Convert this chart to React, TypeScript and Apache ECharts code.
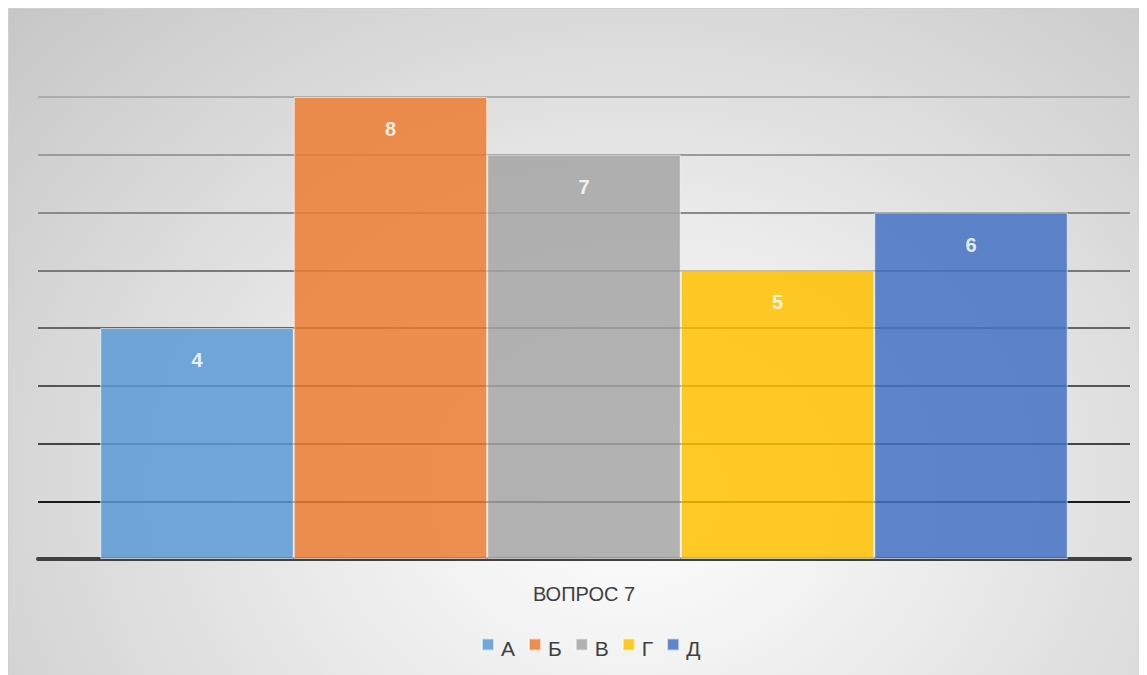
import React, { useEffect, useRef } from "react";
import * as echarts from "echarts";

const categories = ["ВОПРОС 7"];
const seriesNames = ["А", "Б", "В", "Г", "Д"];
const seriesValues = [4, 8, 7, 5, 6];
const seriesColors = ["#5B9BD5", "#ED7D31", "#A5A5A5", "#FFC000", "#4472C4"];
const gridColors = ["#404040", "#1a1a1a", "#454545", "#555555", "#666666", "#797979", "#8a8a8a", "#9b9b9b", "#adadad"];

export default function App() {
  const ref = useRef<HTMLDivElement>(null);
  useEffect(() => {
    if (!ref.current) return;
    const chart = echarts.init(ref.current, null, { renderer: "svg" });
    const font = "'Liberation Sans', Arial, sans-serif";
    chart.setOption({
      animation: false,
      backgroundColor: "transparent",
      textStyle: { fontFamily: font },
      grid: { left: 29, right: 17, top: 88, bottom: 116 },
      legend: {
        data: seriesNames,
        icon: "rect",
        top: 616,
        left: 467,
        itemWidth: 12,
        itemHeight: 12,
        itemGap: 13,
        formatter: "{t|{name}}",
        textStyle: {
          color: "#404040",
          fontSize: 21,
          fontFamily: font,
          rich: {
            t: {
              color: "#404040",
              fontSize: 21,
              fontFamily: font,
              lineHeight: 24,
              padding: [8, 0, 0, 2],
            },
          },
        },
      },
      xAxis: {
        type: "category",
        data: categories,
        axisTick: { show: false },
        axisLine: { lineStyle: { color: "#404040", width: 4 } },
        axisLabel: { color: "#404040", fontSize: 20, margin: 25, fontFamily: font },
      },
      yAxis: {
        type: "value",
        min: 0,
        max: 8,
        interval: 1,
        axisLabel: { show: false },
        axisLine: { show: false },
        axisTick: { show: false },
        splitLine: { lineStyle: { color: gridColors, width: 2 } },
      },
      series: seriesNames.map((name, i) => ({
        name,
        type: "bar",
        data: [seriesValues[i]],
        barGap: "0%",
        barCategoryGap: "11.4%",
        itemStyle: {
          color: seriesColors[i],
          opacity: 0.85,
          borderColor: "rgba(255,255,255,0.7)",
          borderWidth: 1,
        },
        label: {
          show: true,
          position: "insideTop",
          distance: 22,
          color: "#ffffff",
          fontWeight: "bold",
          fontSize: 20,
          fontFamily: font,
        },
      })),
    });
    return () => chart.dispose();
  }, []);
  return (
    <div
      ref={ref}
      style={{
        width: 1139,
        height: 667,
        boxSizing: "border-box",
        borderTop: "1px solid #cfcfcf",
        borderLeft: "1px solid #cfcfcf",
        background: "radial-gradient(ellipse 78% 110% at 55% 72%, #ffffff 0%, #ececec 35%, #c4c4c4 100%)",
      }}
    />
  );
}
